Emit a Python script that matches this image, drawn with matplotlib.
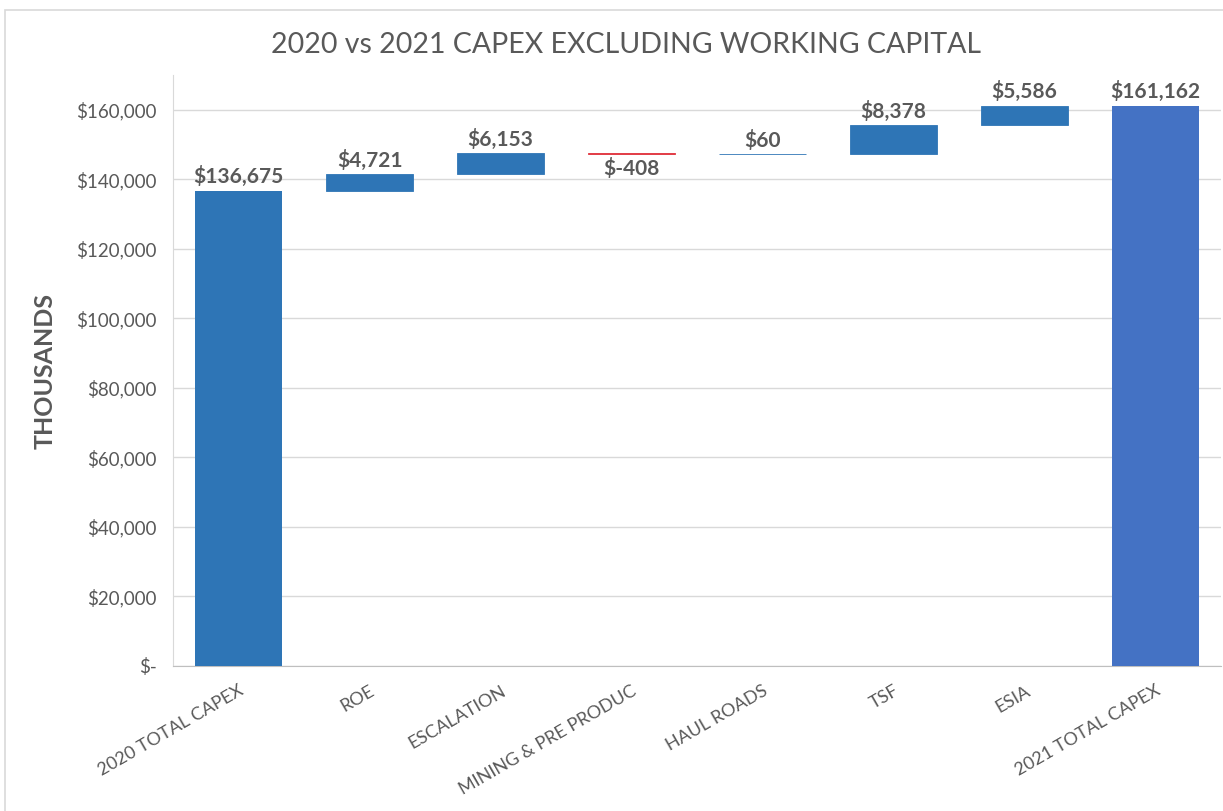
import matplotlib
matplotlib.use("Agg")
import matplotlib.pyplot as plt
from matplotlib.patches import Rectangle
from matplotlib.ticker import FuncFormatter

plt.rcParams['font.family'] = ['Lato', 'DejaVu Sans']

categories = ["2020 TOTAL CAPEX", "ROE", "ESCALATION", "MINING & PRE PRODUC",
              "HAUL ROADS", "TSF", "ESIA", "2021 TOTAL CAPEX"]
start_total = 136675
changes = [4721, 6153, -408, 60, 8378, 5586]
end_total = 161162
yticks = [0, 20000, 40000, 60000, 80000, 100000, 120000, 140000, 160000]

GRAY = "#595959"
fig = plt.figure(figsize=(12.23, 8.11), dpi=100)
fig.patches.append(Rectangle((0.004, -0.01), 1.0, 0.998, transform=fig.transFigure,
                             fill=False, edgecolor="#D9D9D9", linewidth=1.2))
ax = fig.add_axes([0.1415, 0.1788, 0.857, 0.7287])

width = 0.66
LBL = 15
# opening total
ax.bar(0, start_total, width=width, color="#2E75B6", zorder=3)
ax.text(0, start_total + 1000, f"${start_total:,}", ha="center", va="bottom",
        fontsize=LBL, fontweight="bold", color=GRAY)

level = start_total
for i, d in enumerate(changes, start=1):
    lo = min(level, level + d)
    color = "#2E75B6" if d >= 0 else "#E0303A"
    ax.bar(i, abs(d), bottom=lo, width=width, color=color, zorder=3,
           edgecolor=color, linewidth=0.6)
    if d >= 0:
        ax.text(i, level + d + 1000, f"${d:,}", ha="center", va="bottom",
                fontsize=LBL, fontweight="bold", color=GRAY)
    else:
        ax.text(i, lo - 1000, f"$-{abs(d):,}", ha="center", va="top",
                fontsize=LBL, fontweight="bold", color=GRAY)
    level += d

# closing total
ax.bar(len(categories) - 1, end_total, width=width, color="#4472C4", zorder=3)
ax.text(len(categories) - 1, end_total + 1000, f"${end_total:,}", ha="center",
        va="bottom", fontsize=LBL, fontweight="bold", color=GRAY)

ax.set_xlim(-0.5, len(categories) - 0.5)
ax.set_ylim(0, 170000)
ax.set_yticks(yticks)
ax.yaxis.set_major_formatter(FuncFormatter(lambda v, p: "$-" if v == 0 else f"${v:,.0f}"))
ax.grid(axis="y", color="#D9D9D9", linewidth=1, zorder=0)
ax.set_xticks(range(len(categories)))
ax.set_xticklabels(categories, rotation=30, ha="right", rotation_mode="anchor",
                   fontsize=13, color=GRAY)
ax.tick_params(axis="y", labelsize=13.5, colors=GRAY, length=0, pad=12)
ax.tick_params(axis="x", length=0, pad=12)
for s in ["top", "right"]:
    ax.spines[s].set_visible(False)
ax.spines["left"].set_color("#D9D9D9")
ax.spines["bottom"].set_color("#BFBFBF")

ax.set_ylabel("THOUSANDS", fontsize=18, fontweight="bold", color=GRAY, labelpad=14)
fig.text(0.512, 0.944, "2020 vs 2021 CAPEX EXCLUDING WORKING CAPITAL",
         ha="center", va="center", fontsize=20.5, color=GRAY)

fig.savefig("out.png", dpi=100)
